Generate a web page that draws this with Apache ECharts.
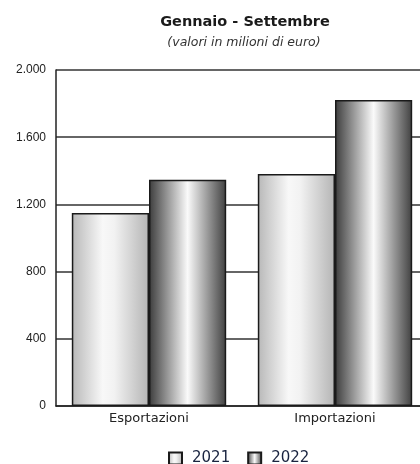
<!DOCTYPE html>
<html>
<head>
<meta charset="utf-8">
<script src="https://cdn.jsdelivr.net/npm/echarts@6/dist/echarts.min.js"></script>
<style>
html, body { margin: 0; padding: 0; background: #fff; overflow: hidden; }
#barChart { width: 440px; height: 464px; }
</style>
</head>
<body>
<div id="barChart"></div>
<script>
var categories = ['Esportazioni', 'Importazioni'];
var years = ['2021', '2022'];
var values2021 = [1149, 1381];
var values2022 = [1347, 1822];
var yTicks = [0, 400, 800, 1200, 1600, 2000];

var dom = document.getElementById("barChart");
var myChart = echarts.init(dom);

function lightGrad() {
    return new echarts.graphic.LinearGradient(0, 0, 1, 0, [
        {offset: 0, color: '#b8b8b8'},
        {offset: 0.4, color: '#f8f8f8'},
        {offset: 0.55, color: '#f2f2f2'},
        {offset: 1, color: '#b4b4b4'}
    ]);
}
function darkGrad() {
    return new echarts.graphic.LinearGradient(0, 0, 1, 0, [
        {offset: 0, color: '#3c3c3c'},
        {offset: 0.5, color: '#fafafa'},
        {offset: 1, color: '#404040'}
    ]);
}

function fmt(v) {
    return String(v).replace(/\B(?=(\d{3})+(?!\d))/g, '.');
}

var option = {
    animation: false,
    title: [{
        text: 'Gennaio - Settembre',
        left: 240,
        top: 10,
        textAlign: 'center',
        textStyle: {fontFamily: 'DejaVu Sans', fontWeight: 'bold', fontSize: 14.5, color: '#1a1a1a'}
    }, {
        text: '(valori in milioni di euro)',
        left: 239,
        top: 31,
        textAlign: 'center',
        textStyle: {fontFamily: 'DejaVu Sans', fontStyle: 'italic', fontWeight: 'normal', fontSize: 12.5, color: '#333'}
    }],
    legend: {
        data: years,
        left: 163,
        top: 446,
        itemWidth: 13,
        itemHeight: 12,
        itemGap: 17,
        icon: 'rect',
        textStyle: {fontFamily: 'DejaVu Sans', fontSize: 15, color: '#1a2440', padding: [0, 0, 0, 5]}
    },
    grid: {left: 56, top: 70, width: 372, height: 336},
    xAxis: {
        type: 'category',
        data: categories,
        axisTick: {show: false},
        axisLine: {lineStyle: {color: '#222', width: 1.5}},
        axisLabel: {fontFamily: 'DejaVu Sans', fontSize: 13, color: '#222', margin: 6}
    },
    yAxis: {
        type: 'value',
        min: yTicks[0],
        max: yTicks[yTicks.length - 1],
        interval: yTicks[1] - yTicks[0],
        axisLine: {show: true, lineStyle: {color: '#222', width: 1.5}},
        axisTick: {show: false},
        axisLabel: {fontFamily: 'Liberation Sans', fontSize: 12, color: '#222', margin: 10, formatter: fmt},
        splitLine: {lineStyle: {color: '#333', width: 1.5}}
    },
    series: [{
        name: years[0],
        type: 'bar',
        data: values2021,
        barGap: '0%',
        barCategoryGap: '17%',
        itemStyle: {color: lightGrad(), borderColor: '#1a1a1a', borderWidth: 1.5}
    }, {
        name: years[1],
        type: 'bar',
        data: values2022,
        itemStyle: {color: darkGrad(), borderColor: '#1a1a1a', borderWidth: 1.5}
    }]
};
myChart.setOption(option, true);
</script>
</body>
</html>
